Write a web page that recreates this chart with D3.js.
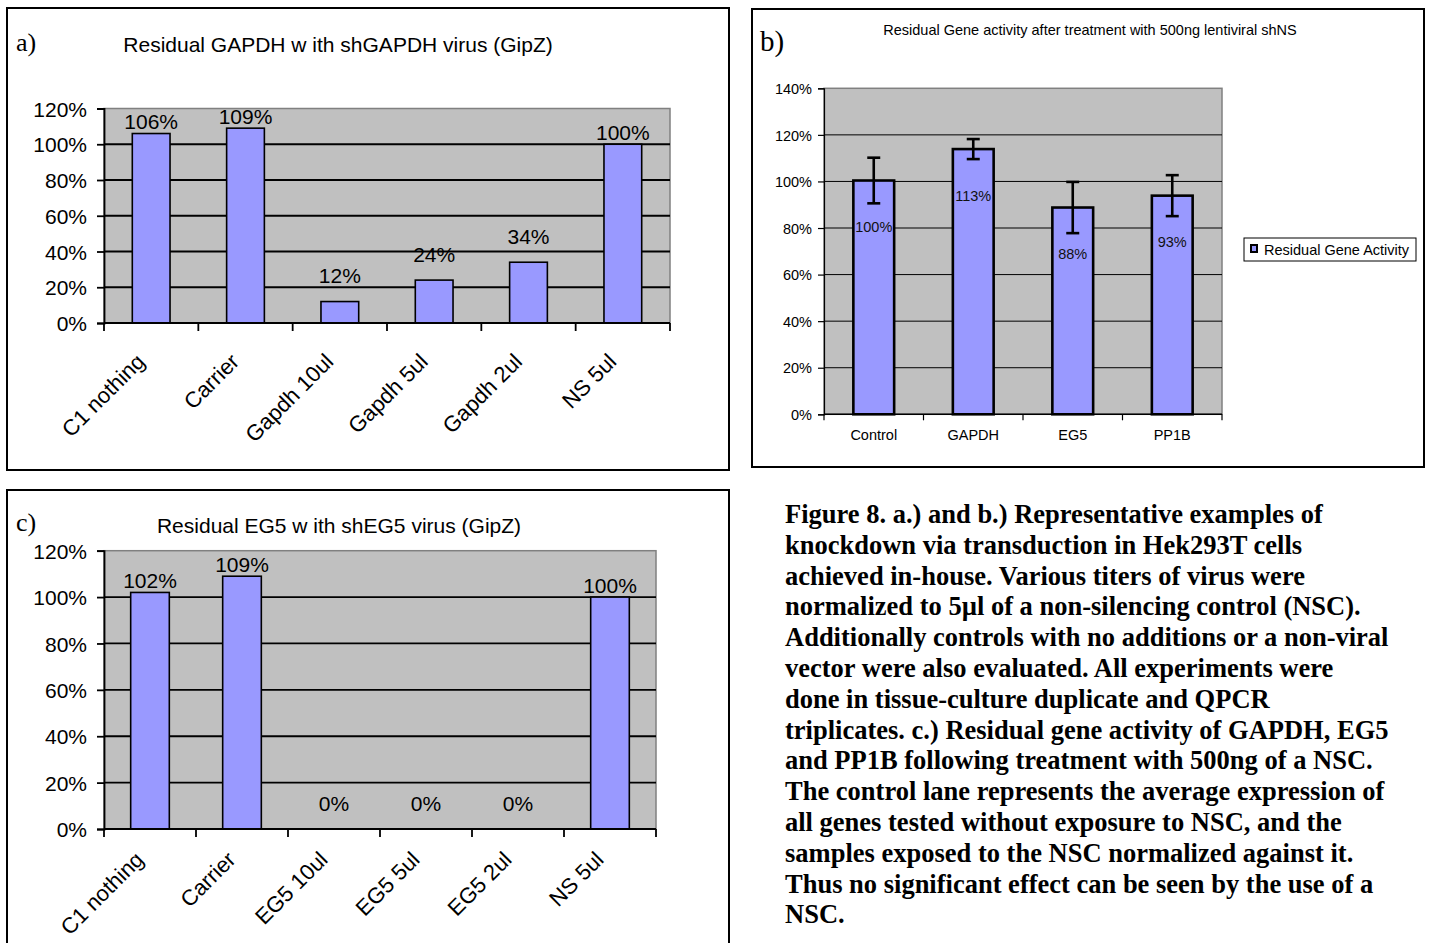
<!DOCTYPE html>
<html><head><meta charset="utf-8">
<script src="https://cdn.jsdelivr.net/npm/d3@7"></script>
<style>body{margin:0;background:#fff;overflow:hidden}</style>
</head><body><svg id="fig" width="1429" height="943"></svg>
<script>
// ---------- data ----------
const catsA = ["C1 nothing", "Carrier", "Gapdh 10ul", "Gapdh 5ul", "Gapdh 2ul", "NS 5ul"];
const valsA = [106, 109, 12, 24, 34, 100];
const titleA = "Residual GAPDH w ith shGAPDH virus (GipZ)";

const catsB = ["Control", "GAPDH", "EG5", "PP1B"];
const valsB = [100.4, 113.9, 88.8, 93.9];
const errB = [9.8, 4.3, 11.0, 8.8];
const labelsB = ["100%", "113%", "88%", "93%"];
const titleB = "Residual Gene activity after treatment with 500ng lentiviral shNS";
const legendB = "Residual Gene Activity";

const catsC = ["C1 nothing", "Carrier", "EG5 10ul", "EG5 5ul", "EG5 2ul", "NS 5ul"];
const valsC = [102, 109, 0, 0, 0, 100];
const titleC = "Residual EG5 w ith shEG5 virus (GipZ)";

const ticksAC = [0, 20, 40, 60, 80, 100, 120];
const ticksB = [0, 20, 40, 60, 80, 100, 120, 140];

const captionLines = [
  "Figure 8. a.) and b.) Representative examples of",
  "knockdown via transduction in Hek293T cells",
  "achieved in-house. Various titers of virus were",
  "normalized to 5\u00b5l of a non-silencing control (NSC).",
  "Additionally controls with no additions or a non-viral",
  "vector were also evaluated. All experiments were",
  "done in tissue-culture duplicate and QPCR",
  "triplicates. c.) Residual gene activity of GAPDH, EG5",
  "and PP1B following treatment with 500ng of a NSC.",
  "The control lane represents the average expression of",
  "all genes tested without exposure to NSC, and the",
  "samples exposed to the NSC normalized against it.",
  "Thus no significant effect can be seen by the use of a",
  "NSC."
];

// ---------- styles ----------
const SANS = "'Liberation Sans', Arial, sans-serif";
const SERIF = "'Liberation Serif', 'Times New Roman', serif";
const BAR = "#9999ff", PLOTBG = "#c0c0c0", PLOTEDGE = "#808080";
const pct = d => d + "%";

const svg = d3.select("#fig");
svg.append("rect").attr("width", 1429).attr("height", 943).attr("fill", "#fff");

function box(x, y, w, h) {
  svg.append("rect").attr("x", x).attr("y", y).attr("width", w).attr("height", h)
    .attr("fill", "none").attr("stroke", "#000").attr("stroke-width", 2);
}

// ---------- panels a & c ----------
function barPanel(o) {
  const g = svg.append("g");
  const x = d3.scaleBand().domain(o.cats).range([o.x0, o.x1])
    .paddingInner(o.pad).paddingOuter(o.pad / 2);
  const y = d3.scaleLinear().domain([0, 120]).range([o.y0, o.y1]);
  g.append("rect").attr("x", o.x0).attr("y", o.y1).attr("width", o.x1 - o.x0).attr("height", o.y0 - o.y1)
    .attr("fill", PLOTBG).attr("stroke", PLOTEDGE).attr("stroke-width", 1.5);
  g.selectAll(".grid").data(o.ticks.filter(t => t > 0 && t < 120)).join("line")
    .attr("x1", o.x0).attr("x2", o.x1).attr("y1", d => y(d)).attr("y2", d => y(d))
    .attr("stroke", "#000").attr("stroke-width", 1.8);
  g.selectAll(".bar").data(o.vals).join("rect")
    .attr("x", (d, i) => x(o.cats[i])).attr("width", x.bandwidth())
    .attr("y", d => y(d)).attr("height", d => y(0) - y(d))
    .attr("fill", BAR).attr("stroke", "#000").attr("stroke-width", d => d > 0 ? 1.6 : 0);
  g.selectAll(".vl").data(o.vals).join("text")
    .attr("x", (d, i) => x(o.cats[i]) + x.bandwidth() / 2)
    .attr("y", d => y(d) - (d >= 90 ? 12 : 26) + 7.5)
    .attr("text-anchor", "middle").attr("font-family", SANS).attr("font-size", 21)
    .text(d => pct(d));
  const ya = g.append("g").attr("transform", `translate(${o.x0},0)`)
    .call(d3.axisLeft(y).tickValues(o.ticks).tickFormat(pct).tickSize(7).tickPadding(10));
  ya.select(".domain").attr("stroke", "#000").attr("stroke-width", 1.8);
  ya.selectAll(".tick line").attr("stroke", "#000").attr("stroke-width", 1.8);
  ya.selectAll("text").attr("font-family", SANS).attr("font-size", 21).attr("fill", "#000").attr("dy", "0.36em");
  g.append("line").attr("x1", o.x0).attr("x2", o.x1).attr("y1", o.y0).attr("y2", o.y0)
    .attr("stroke", "#000").attr("stroke-width", 1.8);
  const bounds = d3.range(o.cats.length + 1).map(i => o.x0 + i * x.step());
  g.selectAll(".xt").data(bounds).join("line")
    .attr("x1", d => d).attr("x2", d => d).attr("y1", o.y0).attr("y2", o.y0 + 8)
    .attr("stroke", "#000").attr("stroke-width", 1.8);
  g.selectAll(".xl").data(o.cats).join("text")
    .attr("transform", d => `translate(${x(d) + x.bandwidth() / 2 - 5},${o.y0 + o.xlabDy}) rotate(-45)`)
    .attr("text-anchor", "end").attr("font-family", SANS).attr("font-size", 22).text(d => d);
  g.append("text").attr("x", o.titleX).attr("y", o.titleY).attr("text-anchor", "middle")
    .attr("font-family", SANS).attr("font-size", 21).text(o.title);
  g.append("text").attr("x", o.tagX).attr("y", o.tagY)
    .attr("font-family", SERIF).attr("font-size", 26).text(o.tag);
}

box(7, 8, 722, 462);
barPanel({ cats: catsA, vals: valsA, ticks: ticksAC, x0: 104, x1: 670, y0: 323, y1: 108.5, pad: 0.6,
  xlabDy: 40, title: titleA, titleX: 338, titleY: 52, tag: "a)", tagX: 16, tagY: 51 });

box(7, 490, 722, 520);
barPanel({ cats: catsC, vals: valsC, ticks: ticksAC, x0: 104, x1: 656, y0: 829, y1: 550.7, pad: 0.58,
  xlabDy: 32, title: titleC, titleX: 339, titleY: 533, tag: "c)", tagX: 16, tagY: 531 });

// ---------- panel b ----------
(function () {
  box(752, 9, 672, 458);
  const g = svg.append("g");
  const x0 = 824, x1 = 1222, y0 = 414.3, y1 = 88.3;
  const x = d3.scaleBand().domain(catsB).range([x0, x1]).paddingInner(0.59).paddingOuter(0.295);
  const y = d3.scaleLinear().domain([0, 140]).range([y0, y1]);
  g.append("rect").attr("x", x0).attr("y", y1).attr("width", x1 - x0).attr("height", y0 - y1)
    .attr("fill", PLOTBG).attr("stroke", PLOTEDGE).attr("stroke-width", 1.5);
  g.selectAll(".grid").data(ticksB.filter(t => t > 0 && t < 140)).join("line")
    .attr("x1", x0).attr("x2", x1).attr("y1", d => y(d)).attr("y2", d => y(d))
    .attr("stroke", "#000").attr("stroke-width", 1);
  g.selectAll(".bar").data(valsB).join("rect")
    .attr("x", (d, i) => x(catsB[i])).attr("width", x.bandwidth())
    .attr("y", d => y(d)).attr("height", d => y(0) - y(d))
    .attr("fill", BAR).attr("stroke", "#000").attr("stroke-width", 2.6);
  const cx = i => x(catsB[i]) + x.bandwidth() / 2;
  const eg = g.selectAll(".err").data(valsB).join("g");
  eg.append("line").attr("x1", (d, i) => cx(i)).attr("x2", (d, i) => cx(i))
    .attr("y1", (d, i) => y(d + errB[i])).attr("y2", (d, i) => y(d - errB[i]))
    .attr("stroke", "#000").attr("stroke-width", 2.6);
  eg.append("line").attr("x1", (d, i) => cx(i) - 6.5).attr("x2", (d, i) => cx(i) + 6.5)
    .attr("y1", (d, i) => y(d + errB[i])).attr("y2", (d, i) => y(d + errB[i]))
    .attr("stroke", "#000").attr("stroke-width", 2.6);
  eg.append("line").attr("x1", (d, i) => cx(i) - 6.5).attr("x2", (d, i) => cx(i) + 6.5)
    .attr("y1", (d, i) => y(d - errB[i])).attr("y2", (d, i) => y(d - errB[i]))
    .attr("stroke", "#000").attr("stroke-width", 2.6);
  g.selectAll(".vl").data(valsB).join("text")
    .attr("x", (d, i) => cx(i)).attr("y", d => y(d - 20) + 5)
    .attr("text-anchor", "middle").attr("font-family", SANS).attr("font-size", 14.5).attr("fill", "#111")
    .text((d, i) => labelsB[i]);
  const ya = g.append("g").attr("transform", `translate(${x0},0)`)
    .call(d3.axisLeft(y).tickValues(ticksB).tickFormat(pct).tickSize(6).tickPadding(6));
  ya.select(".domain").attr("stroke", "#000").attr("stroke-width", 1.2);
  ya.selectAll(".tick line").attr("stroke", "#000").attr("stroke-width", 1.2);
  ya.selectAll("text").attr("font-family", SANS).attr("font-size", 14.5).attr("fill", "#000").attr("dy", "0.36em");
  g.append("line").attr("x1", x0).attr("x2", x1).attr("y1", y0).attr("y2", y0)
    .attr("stroke", "#000").attr("stroke-width", 1.5);
  const bounds = d3.range(catsB.length + 1).map(i => x0 + i * x.step());
  g.selectAll(".xt").data(bounds).join("line")
    .attr("x1", d => d).attr("x2", d => d).attr("y1", y0).attr("y2", y0 + 6)
    .attr("stroke", "#000").attr("stroke-width", 1.2);
  g.selectAll(".xl").data(catsB).join("text")
    .attr("x", d => x(d) + x.bandwidth() / 2).attr("y", y0 + 26)
    .attr("text-anchor", "middle").attr("font-family", SANS).attr("font-size", 14.5).text(d => d);
  g.append("text").attr("x", 1090).attr("y", 35).attr("text-anchor", "middle")
    .attr("font-family", SANS).attr("font-size", 14.5).text(titleB);
  g.append("text").attr("x", 760).attr("y", 51).attr("font-family", SERIF).attr("font-size", 29).text("b)");
  g.append("rect").attr("x", 1244).attr("y", 238).attr("width", 172).attr("height", 23)
    .attr("fill", "#fff").attr("stroke", "#000").attr("stroke-width", 1);
  g.append("rect").attr("x", 1251).attr("y", 245).attr("width", 6).attr("height", 7)
    .attr("fill", BAR).attr("stroke", "#000").attr("stroke-width", 2);
  g.append("text").attr("x", 1264).attr("y", 255).attr("font-family", SANS).attr("font-size", 14.5).text(legendB);
})();

// ---------- caption ----------
svg.append("text").attr("x", 785).attr("y", 523)
  .attr("font-family", SERIF).attr("font-weight", "bold").attr("font-size", 26.5)
  .selectAll("tspan").data(captionLines).join("tspan")
  .attr("x", 785).attr("dy", (d, i) => i === 0 ? 0 : 30.8).text(d => d);
</script></body></html>
